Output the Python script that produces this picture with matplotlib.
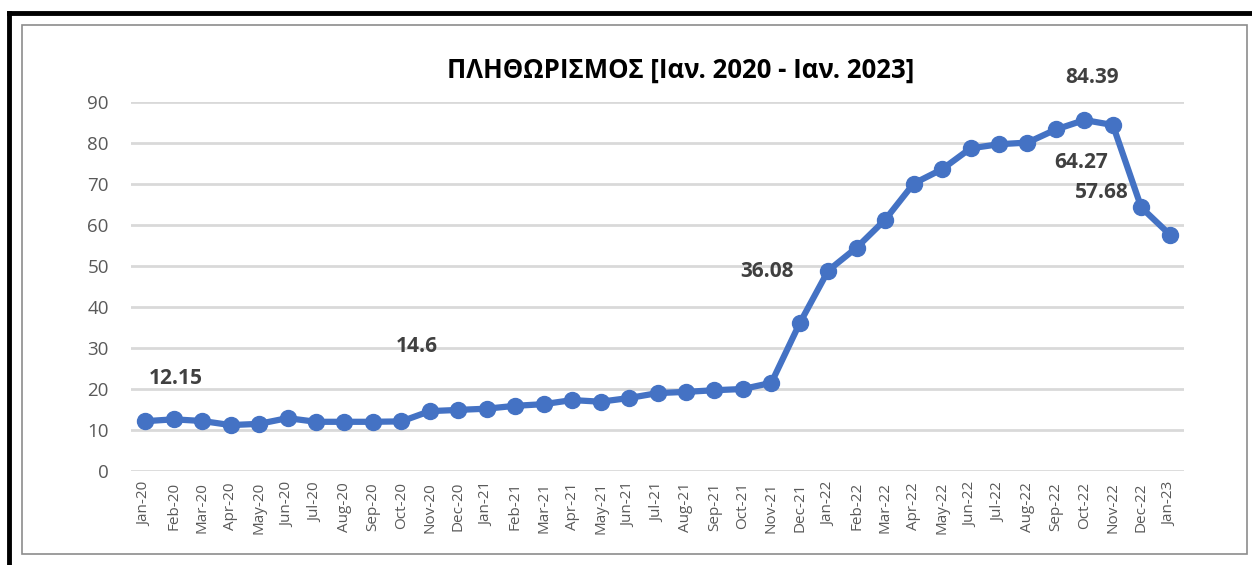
import matplotlib
matplotlib.use("Agg")
import matplotlib.pyplot as plt
from matplotlib.lines import Line2D
from matplotlib.patches import Rectangle

months = ["Jan-20", "Feb-20", "Mar-20", "Apr-20", "May-20", "Jun-20", "Jul-20",
          "Aug-20", "Sep-20", "Oct-20", "Nov-20", "Dec-20", "Jan-21", "Feb-21",
          "Mar-21", "Apr-21", "May-21", "Jun-21", "Jul-21", "Aug-21", "Sep-21",
          "Oct-21", "Nov-21", "Dec-21", "Jan-22", "Feb-22", "Mar-22", "Apr-22",
          "May-22", "Jun-22", "Jul-22", "Aug-22", "Sep-22", "Oct-22", "Nov-22",
          "Dec-22", "Jan-23"]
inflation = [12.15, 12.6, 12.2, 11.2, 11.5, 12.9, 12.0, 12.0, 12.0, 12.1, 14.6,
             14.9, 15.2, 15.9, 16.3, 17.3, 16.9, 17.8, 19.0, 19.3, 19.7, 20.0,
             21.5, 36.08, 48.9, 54.5, 61.3, 70.1, 73.6, 78.7, 79.7, 80.1, 83.3,
             85.6, 84.39, 64.27, 57.68]

# which points get a data label, and pixel offset of the label from the point
labelled = {0: (31, 43), 10: (-13, 65), 23: (-33, 52), 34: (-21, 48),
            35: (-60, 45), 36: (-68, 42)}

plt.rcParams['font.family'] = ['Open Sans', 'DejaVu Sans']

W, H = 1252, 565
fig = plt.figure(figsize=(W / 100, H / 100), dpi=100)

# outer black frame (top and left) and gray chart border
fig.add_artist(Line2D([9 / W, 1], [1 - 13 / H, 1 - 13 / H], color='black', lw=3.5))
fig.add_artist(Line2D([9 / W, 9 / W], [0, 1 - 13 / H], color='black', lw=3.5))
fig.add_artist(Rectangle((22 / W, 1 - 554 / H), (1247 - 22) / W, (554 - 25) / H,
                         fill=False, edgecolor='#8c8c8c', lw=1.2))

ax = fig.add_axes([131 / W, 1 - 471 / H, (1184 - 131) / W, (471 - 102) / H])
x = list(range(len(months)))
ax.plot(x, inflation, color='#4472C4', lw=4.5, marker='o', ms=11.5, zorder=3)

for i, (dx, dy) in labelled.items():
    v = inflation[i]
    ax.annotate(f"{v:g}", (i, v), xytext=(dx, dy), textcoords='offset pixels',
                ha='center', va='center', fontsize=15, fontweight='bold',
                color='#404040')

ax.set_xlim(-0.5, len(months) - 0.5)
ax.set_ylim(0, 90)
ax.set_yticks(range(0, 91, 10))
ax.set_xticks(x)
ax.set_xticklabels(months, rotation=90, fontsize=11, color='#595959')
ax.tick_params(axis='y', labelsize=13.5, labelcolor='#595959', length=0, pad=16)
ax.tick_params(axis='x', length=0, pad=8)
ax.grid(axis='y', color='#d9d9d9', lw=2)
ax.set_axisbelow(True)
for s in ax.spines.values():
    s.set_visible(False)

fig.text(681 / W, 1 - 70 / H, "ΠΛΗΘΩΡΙΣΜΟΣ [Ιαν. 2020 - Ιαν. 2023]",
         ha='center', va='center', fontsize=18.5, fontweight='bold', color='black')

fig.savefig("out.png", dpi=100)
